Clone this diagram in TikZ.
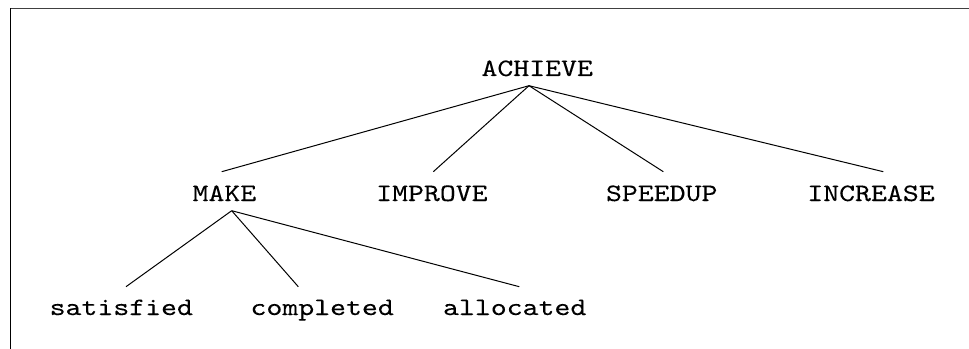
\documentclass[tikz,border=0pt]{standalone}
\usepackage{fontspec}
\newfontfamily\treefont[FakeStretch=1.21,FakeBold=0.15]{lmmono10-regular.otf}
\begin{document}
\begin{tikzpicture}[x=0.75pt,y=-0.75pt,
  word/.style={font=\treefont\fontsize{18.8}{22}\selectfont, inner sep=0pt, anchor=base},
  branch/.style={draw=black, line width=0.75pt},
  frameline/.style={line width=1pt}]
  \useasboundingbox (0,0) rectangle (969,349);
  % partial frame: top and left edges
  \draw[frameline, draw=black!75] (10.5,8.5) -- (969,8.5);
  \draw[frameline, draw=black] (10.5,8.5) -- (10.5,349);

  % words of the tree
  \node[word] (achieve)  at (537.2,76)  {ACHIEVE};
  \node[word] (make)     at (224.4,201) {MAKE};
  \node[word] (improve)  at (431.9,201) {IMPROVE};
  \node[word] (speedup)  at (661.7,201) {SPEEDUP};
  \node[word] (increase) at (871.0,201) {INCREASE};
  \node[word] (satisfied) at (121.3,315) {satisfied};
  \node[word] (completed) at (322.2,315) {completed};
  \node[word] (allocated) at (514.7,315) {allocated};

  % attachment points of the branches
  \coordinate (achieve-foot)  at (529,85.7);
  \coordinate (make-head)     at (221.7,171.7);
  \coordinate (improve-head)  at (433.3,171.7);
  \coordinate (speedup-head)  at (663.3,171.7);
  \coordinate (increase-head) at (883.3,171.7);
  \coordinate (make-foot)     at (231.7,210.7);
  \coordinate (satisfied-head) at (126,286.7);
  \coordinate (completed-head) at (298.3,286.7);
  \coordinate (allocated-head) at (519.3,286.7);

  \draw[branch] (achieve-foot) -- (make-head);
  \draw[branch] (achieve-foot) -- (improve-head);
  \draw[branch] (achieve-foot) -- (speedup-head);
  \draw[branch] (achieve-foot) -- (increase-head);
  \draw[branch] (make-foot) -- (satisfied-head);
  \draw[branch] (make-foot) -- (completed-head);
  \draw[branch] (make-foot) -- (allocated-head);
\end{tikzpicture}
\end{document}
